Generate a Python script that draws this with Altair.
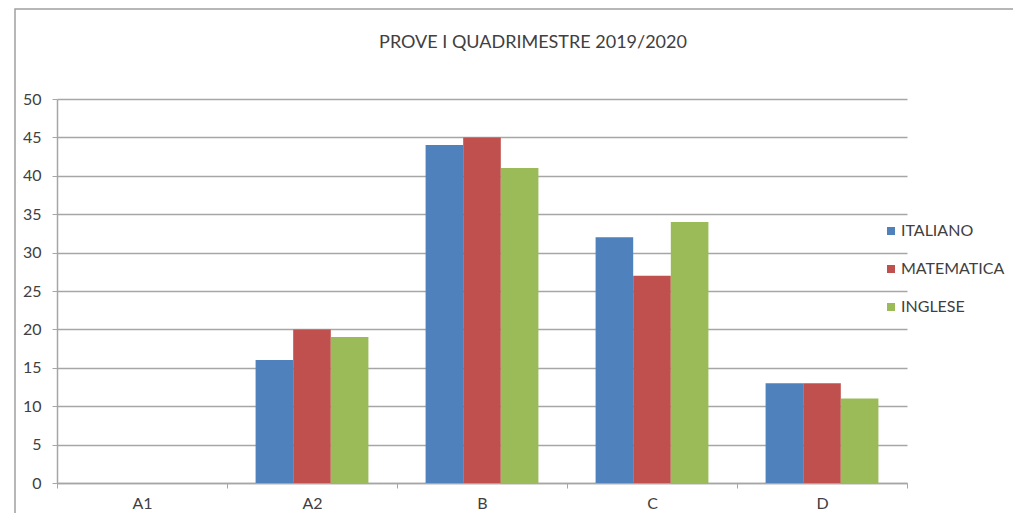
import altair as alt
import pandas as pd

categories = ["A1", "A2", "B", "C", "D"]
series = ["ITALIANO", "MATEMATICA", "INGLESE"]
italiano = [0, 16, 44, 32, 13]
matematica = [0, 20, 45, 27, 13]
inglese = [0, 19, 41, 34, 11]
colors = ["#4F81BD", "#C0504D", "#9BBB59"]
y_ticks = list(range(0, 51, 5))
title_text = "PROVE I QUADRIMESTRE 2019/2020"

rows = []
for name, vals in zip(series, [italiano, matematica, inglese]):
    for c, v in zip(categories, vals):
        rows.append({"cat": c, "serie": name, "val": v})
df = pd.DataFrame(rows)

FONT = "Lato"
GRAY = "#a6a6a6"
TXT = "#404040"

bars = alt.Chart(df).mark_bar(stroke=None).encode(
    x=alt.X("cat:N", sort=categories, title=None,
            scale=alt.Scale(paddingInner=0, paddingOuter=0),
            axis=alt.Axis(labelAngle=0, tickBand="extent", domainColor=GRAY,
                          domainWidth=1.5, tickColor=GRAY, tickSize=5, labelPadding=7,
                          labelFont=FONT, labelFontSize=16, labelColor=TXT)),
    xOffset=alt.XOffset("serie:N", sort=series,
                        scale=alt.Scale(paddingInner=0, paddingOuter=0.76)),
    y=alt.Y("val:Q", title=None,
            scale=alt.Scale(domain=[0, 50]),
            axis=alt.Axis(values=y_ticks, grid=True, gridColor=GRAY, gridWidth=1.5,
                          domainColor=GRAY, domainWidth=1.5, tickColor=GRAY, tickSize=5,
                          labelPadding=11, labelFont=FONT, labelFontSize=16,
                          labelColor=TXT)),
    color=alt.Color("serie:N", sort=series,
                    scale=alt.Scale(domain=series, range=colors),
                    legend=alt.Legend(title=None, orient="none", legendX=826,
                                      legendY=124, symbolType="square",
                                      symbolSize=64, symbolStrokeWidth=0,
                                      labelFont=FONT, labelFontSize=16,
                                      labelColor=TXT, rowPadding=22, padding=0,
                                      labelOffset=2)),
)

frame = alt.Chart(pd.DataFrame({"k": [0]})).mark_rect(
    fill=None, stroke="#a0a0a0", strokeWidth=1.5, clip=False
).encode(x=alt.value(-42), x2=alt.value(990), y=alt.value(-90), y2=alt.value(450))

title = alt.Chart(pd.DataFrame({"t": [title_text]})).mark_text(
    font=FONT, fontSize=18, color=TXT, align="center", baseline="middle"
).encode(text="t:N", x=alt.value(476), y=alt.value(-56))

chart = alt.layer(frame, bars, title).properties(
    width=850, height=384,
    autosize=alt.AutoSizeParams(type="none"),
    padding={"left": 49, "top": 91, "right": 106, "bottom": 30},
).configure_view(stroke=None)

chart.save("out.html", embed_options={"renderer": "svg", "actions": False})
